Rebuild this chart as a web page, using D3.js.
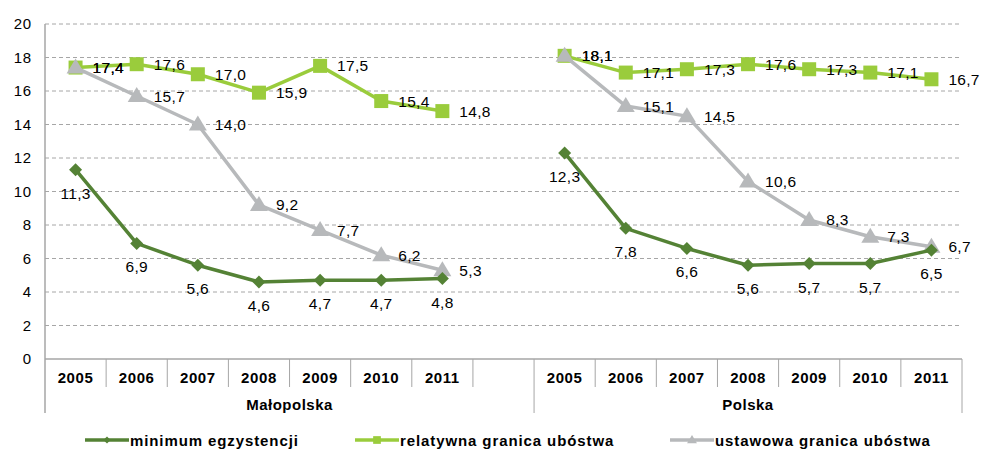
<!DOCTYPE html>
<html>
<head>
<meta charset="utf-8">
<script src="https://cdn.jsdelivr.net/npm/d3@7"></script>
<style>
  body { margin: 0; background: #fff; }
  svg { font-family: 'Liberation Sans', Arial, sans-serif; }
</style>
</head>
<body>
<svg id="chart" width="985" height="454"></svg>
<script>
// data
var years = ['2005', '2006', '2007', '2008', '2009', '2010', '2011']
var regions = ['Małopolska', 'Polska']
var minimumMal = [11.3, 6.9, 5.6, 4.6, 4.7, 4.7, 4.8]
var minimumPol = [12.3, 7.8, 6.6, 5.6, 5.7, 5.7, 6.5]
var relatywnaMal = [17.4, 17.6, 17.0, 15.9, 17.5, 15.4, 14.8]
var relatywnaPol = [18.1, 17.1, 17.3, 17.6, 17.3, 17.1, 16.7]
var ustawowaMal = [17.4, 15.7, 14.0, 9.2, 7.7, 6.2, 5.3]
var ustawowaPol = [18.1, 15.1, 14.5, 10.6, 8.3, 7.3, 6.7]
var yTicks = [0, 2, 4, 6, 8, 10, 12, 14, 16, 18, 20]

var series = [
  { name: 'minimum egzystencji', color: '#548235', marker: 'diamond', label: 'below', values: [minimumMal, minimumPol] },
  { name: 'relatywna granica ubóstwa', color: '#9acc3c', marker: 'square', label: 'right', values: [relatywnaMal, relatywnaPol] },
  { name: 'ustawowa granica ubóstwa', color: '#b7b9bb', marker: 'triangle', label: 'right', values: [ustawowaMal, ustawowaPol] }
]

var svg = d3.select('#chart')
var plotLeft = 45
var plotRight = 962
var plotTop = 24
var plotBottom = 359

// 7 years + empty gap slot + 7 years
var slots = []
years.forEach(function (y) { slots.push('M' + y) })
slots.push('gap')
years.forEach(function (y) { slots.push('P' + y) })

var x = d3.scaleBand().domain(slots).range([plotLeft, plotRight])
var y = d3.scaleLinear().domain([0, 20]).range([plotBottom, plotTop])
var bw = x.bandwidth()

// gridlines
svg.append('g').selectAll('line')
  .data(yTicks.filter(function (d) { return d > 0 }))
  .enter().append('line')
  .attr('x1', plotLeft).attr('x2', plotRight - 2)
  .attr('y1', function (d) { return y(d) }).attr('y2', function (d) { return y(d) })
  .attr('stroke', '#a6a6a6').attr('stroke-width', 1).attr('stroke-dasharray', '4,3')

// y axis
var yAxis = svg.append('g')
  .attr('transform', 'translate(' + plotLeft + ',0)')
  .call(d3.axisLeft(y).tickValues(yTicks).tickSize(0).tickPadding(13).tickFormat(d3.format('d')))
yAxis.select('.domain').remove()
yAxis.selectAll('text').attr('font-size', 15).attr('letter-spacing', 0.8).attr('fill', '#000')
  .attr('font-family', 'Liberation Sans, Arial, sans-serif')
svg.append('line').attr('x1', plotLeft).attr('x2', plotLeft).attr('y1', plotTop).attr('y2', 413)
  .attr('stroke', '#a6a6a6').attr('stroke-width', 1.5)

// x axis
svg.append('line').attr('x1', plotLeft).attr('x2', plotRight).attr('y1', plotBottom).attr('y2', plotBottom)
  .attr('stroke', '#a6a6a6').attr('stroke-width', 1.5)
slots.forEach(function (s) {
  if (s === 'P2011') return
  var xs = x(s) + bw
  var isLong = s === 'gap'
  svg.append('line').attr('x1', xs).attr('x2', xs).attr('y1', plotBottom).attr('y2', isLong ? 413 : 387)
    .attr('stroke', '#a6a6a6').attr('stroke-width', 1)
})
svg.append('line').attr('x1', plotRight).attr('x2', plotRight).attr('y1', plotBottom).attr('y2', 413)
  .attr('stroke', '#a6a6a6').attr('stroke-width', 1)

regions.forEach(function (r, ri) {
  var pre = ri === 0 ? 'M' : 'P'
  svg.append('g').selectAll('text').data(years).enter().append('text')
    .attr('x', function (d) { return x(pre + d) + bw / 2 })
    .attr('y', 383)
    .attr('text-anchor', 'middle').attr('font-size', 15).attr('font-weight', 'bold')
    .attr('letter-spacing', 0.6)
    .text(function (d) { return d })
  var cx = ri === 0 ? (plotLeft + x('gap') + bw) / 2 : (x('P2005') + plotRight) / 2
  svg.append('text').attr('x', cx)
    .attr('y', 410).attr('text-anchor', 'middle').attr('font-size', 15).attr('font-weight', 'bold')
    .attr('letter-spacing', 0.5)
    .text(r)
})

function drawMarker (g, type, cx, cy, color, scale) {
  scale = scale || 1
  if (type === 'square') {
    var s = 14 * scale
    g.append('rect').attr('x', cx - s / 2).attr('y', cy - s / 2).attr('width', s).attr('height', s).attr('fill', color)
  } else if (type === 'diamond') {
    var d = 6.5 * scale
    g.append('path').attr('d', 'M' + cx + ',' + (cy - d) + 'L' + (cx + d) + ',' + cy + 'L' + cx + ',' + (cy + d) + 'L' + (cx - d) + ',' + cy + 'Z').attr('fill', color)
  } else {
    var w = 9 * scale
    var h = 15 * scale
    g.append('path').attr('d', 'M' + cx + ',' + (cy - h * 0.6) + 'L' + (cx + w) + ',' + (cy + h * 0.4) + 'L' + (cx - w) + ',' + (cy + h * 0.4) + 'Z').attr('fill', color)
  }
}

var line = d3.line()
  .x(function (d) { return x(d.key) + bw / 2 })
  .y(function (d) { return y(d.v) })

// draw series: relatywna first, then ustawowa, then minimum on top
var order = [1, 2, 0]
order.forEach(function (si) {
  var s = series[si]
  var g = svg.append('g')
  regions.forEach(function (r, ri) {
    var pre = ri === 0 ? 'M' : 'P'
    var pts = s.values[ri].map(function (v, i) { return { key: pre + years[i], v: v } })
    g.append('path').datum(pts).attr('d', line).attr('fill', 'none')
      .attr('stroke', s.color).attr('stroke-width', 3.5).attr('stroke-linejoin', 'round')
    pts.forEach(function (p) {
      drawMarker(g, s.marker, x(p.key) + bw / 2, y(p.v), s.color)
    })
  })
})

// value labels
order.forEach(function (si) {
  var s = series[si]
  regions.forEach(function (r, ri) {
    var pre = ri === 0 ? 'M' : 'P'
    s.values[ri].forEach(function (v, i) {
      var cx = x(pre + years[i]) + bw / 2
      var cy = y(v)
      var t = svg.append('text').attr('font-size', 15.5).attr('letter-spacing', 0.3).attr('fill', '#000')
        .text(d3.format('.1f')(v).replace('.', ','))
      if (s.label === 'below') {
        t.attr('x', cx).attr('y', cy + 29).attr('text-anchor', 'middle')
      } else {
        t.attr('x', cx + 17).attr('y', cy + 5.5).attr('text-anchor', 'start')
      }
    })
  })
})

// legend
var legendX = [85, 355, 670]
series.forEach(function (s, i) {
  var lg = svg.append('g').attr('transform', 'translate(' + legendX[i] + ',440)')
  lg.append('line').attr('x1', 0).attr('x2', 44).attr('y1', 0).attr('y2', 0)
    .attr('stroke', s.color).attr('stroke-width', 3.5)
  drawMarker(lg, s.marker, 22, 0, s.color, 0.55)
  lg.append('text').attr('x', 45).attr('y', 5.5).attr('font-size', 15).attr('font-weight', 'bold')
    .attr('letter-spacing', 0.9)
    .text(s.name)
})
</script>
</body>
</html>
